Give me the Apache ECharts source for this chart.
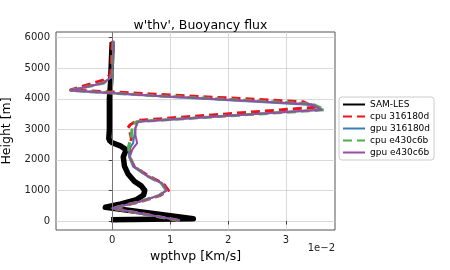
<!DOCTYPE html>
<html>
<head>
<meta charset="utf-8">
<script src="https://cdn.jsdelivr.net/npm/echarts@6/dist/echarts.min.js"></script>
<style>html,body{margin:0;padding:0;background:#fff}#c{width:450px;height:270px}</style>
</head>
<body>
<div id="c"></div>
<script>
// values of wpthvp in units of 1e-2 K m/s, heights in m
var xTicks = [0, 1, 2, 3];
var yTicks = [0, 1000, 2000, 3000, 4000, 5000, 6000];

var samZ = [40, 75, 450, 560, 700, 850, 1000, 1150, 1300, 1550, 1800, 2100, 2330, 2450, 2560, 2620, 2700, 3000, 3500, 4000, 4500, 5000, 5500, 5850];
var samX = [-0.02, 1.40, -0.12, 0.15, 0.42, 0.54, 0.56, 0.50, 0.38, 0.27, 0.21, 0.19, 0.24, 0.15, 0.0, -0.04, -0.06, -0.05, -0.05, -0.05, -0.03, -0.02, -0.01, 0.0];

var cpu3Z = [20, 420, 620, 830, 1000, 1230, 1480, 1780, 2100, 2400, 2700, 2950, 3050, 3150, 3290, 3720, 3900, 4160, 4290, 4620, 4790, 5900];
var cpu3X = [1.15, 0.0, 0.46, 0.82, 0.97, 0.88, 0.62, 0.38, 0.30, 0.30, 0.33, 0.30, 0.27, 0.31, 0.43, 3.50, 3.30, 0.66, -0.72, -0.15, -0.03, 0.0];

var gpu3Z = [20, 416, 620, 830, 1000, 1230, 1480, 1780, 2100, 2330, 2550, 2800, 3050, 3260, 3640, 3800, 4100, 4272, 4515, 4700, 4800, 5900];
var gpu3X = [1.17, 0.0, 0.45, 0.80, 0.94, 0.86, 0.60, 0.36, 0.29, 0.28, 0.36, 0.38, 0.40, 0.45, 3.60, 3.45, 0.66, -0.72, -0.15, -0.03, 0.0, 0.02];

var cpuEZ = [20, 416, 620, 830, 1000, 1230, 1480, 1780, 2100, 2436, 2700, 2984, 3150, 3250, 3640, 3830, 4110, 4272, 4515, 4700, 4800, 5900];
var cpuEX = [1.15, 0.0, 0.45, 0.80, 0.93, 0.85, 0.60, 0.38, 0.30, 0.28, 0.32, 0.34, 0.36, 0.42, 3.67, 3.45, 0.66, -0.72, -0.15, -0.03, 0.0, 0.02];

var gpuEZ = [20, 416, 620, 830, 1000, 1230, 1480, 1780, 2100, 2350, 2550, 2800, 3050, 3250, 3640, 3820, 4110, 4272, 4515, 4700, 4800, 5900];
var gpuEX = [1.17, 0.0, 0.45, 0.80, 0.94, 0.86, 0.60, 0.38, 0.30, 0.35, 0.43, 0.40, 0.40, 0.44, 3.62, 3.45, 0.66, -0.72, -0.15, -0.03, 0.0, 0.02];

var names = ['SAM-LES', 'cpu 316180d', 'gpu 316180d', 'cpu e430c6b', 'gpu e430c6b'];

function pairs(xs, zs) { return xs.map(function (v, i) { return [v, zs[i]]; }); }

var font = 'DejaVu Sans';
var chart = echarts.init(document.getElementById('c'), null, { renderer: 'canvas' });

function mkSeries(name, xs, zs, color, width, type, extra) {
  var s = {
    name: name, type: 'line', data: pairs(xs, zs), symbol: 'none', showSymbol: false,
    lineStyle: { color: color, width: width, type: type, cap: 'butt', join: 'round' },
    itemStyle: { color: color }, animation: false, silent: true
  };
  if (extra) for (var k in extra) s[k] = extra[k];
  return s;
}

chart.setOption({
  animation: false,
  backgroundColor: '#fff',
  title: {
    text: "w'thv', Buoyancy flux", left: 195.5, top: 14, textAlign: 'center',
    textStyle: { fontFamily: font, fontSize: 12.5, fontWeight: 'normal', color: '#000' }
  },
  grid: { left: 56, right: 115, top: 32, bottom: 40, outerBoundsMode: 'none', containLabel: false, show: true, borderColor: '#555', borderWidth: 1, backgroundColor: 'transparent' },
  legend: {
    orient: 'vertical', left: 339, top: 97, data: names,
    itemWidth: 22, itemHeight: 10, itemGap: 3,
    backgroundColor: '#fff', borderColor: '#ccc', borderWidth: 1, borderRadius: 3,
    padding: [3, 4, 3, 3],
    itemStyle: { opacity: 0, borderWidth: 0 },
    textStyle: { fontFamily: font, fontSize: 9, color: '#000' }
  },
  xAxis: {
    type: 'value', min: -0.972, max: 3.846,
    name: 'wpthvp [Km/s]', nameLocation: 'middle', nameGap: 18,
    nameTextStyle: { fontFamily: font, fontSize: 12.5, color: '#000' },
    axisLine: { show: false },
    axisTick: { show: true, inside: false, length: 3.5, customValues: xTicks, lineStyle: { color: '#444' } },
    axisLabel: { customValues: xTicks, margin: 5, fontFamily: font, fontSize: 10, color: '#222' },
    splitLine: { show: true, customValues: xTicks, lineStyle: { color: '#cfcfcf', width: 0.8 } }
  },
  yAxis: {
    type: 'value', min: -294, max: 6186,
    name: 'Height [m]', nameLocation: 'middle', nameGap: 33,
    nameTextStyle: { fontFamily: font, fontSize: 12.5, color: '#000' },
    axisLine: { show: false },
    axisTick: { show: true, inside: false, length: 3.5, customValues: yTicks, lineStyle: { color: '#444' } },
    axisLabel: { customValues: yTicks, formatter: function (v) { return String(v); }, margin: 6, fontFamily: font, fontSize: 10, color: '#222' },
    splitLine: { show: true, customValues: yTicks, lineStyle: { color: '#cfcfcf', width: 0.8 } }
  },
  graphic: [{
    type: 'text', right: 115, top: 243,
    style: { text: '1e\u22122', fontFamily: font, fontSize: 10, fill: '#222', textAlign: 'right' }
  }],
  series: [
    mkSeries(names[0], samX, samZ, '#000', 5.5, 'solid', {
      markLine: { silent: true, symbol: 'none', label: { show: false }, lineStyle: { color: '#777', width: 1, type: 'solid' }, data: [{ xAxis: 0 }] }
    }),
    mkSeries(names[1], cpu3X, cpu3Z, '#e8161c', 3, [9, 5]),
    mkSeries(names[2], gpu3X, gpu3Z, '#377eb8', 2),
    mkSeries(names[3], cpuEX, cpuEZ, '#4daf4a', 3, [9, 5]),
    mkSeries(names[4], gpuEX, gpuEZ, '#984ea3', 2)
  ]
});
</script>
</body>
</html>
